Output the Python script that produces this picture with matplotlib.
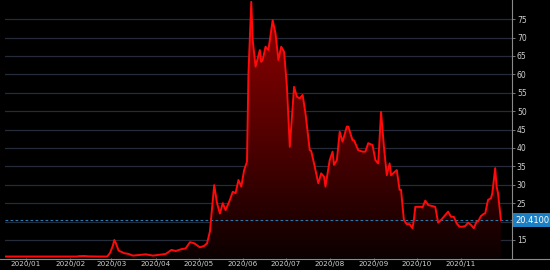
import datetime as dt

import matplotlib
matplotlib.use("Agg")
import matplotlib.dates as mdates
import matplotlib.pyplot as plt
import numpy as np
from matplotlib.colors import LinearSegmentedColormap
from matplotlib.lines import Line2D

# values
dates = [
    "2019-12-18", "2020-01-10", "2020-02-06", "2020-02-07", "2020-02-11", "2020-02-14",
    "2020-02-21", "2020-02-27", "2020-02-29", "2020-03-02", "2020-03-03", "2020-03-04",
    "2020-03-06", "2020-03-10", "2020-03-13", "2020-03-16", "2020-03-20", "2020-03-25",
    "2020-03-30", "2020-04-04", "2020-04-08", "2020-04-12", "2020-04-15", "2020-04-19",
    "2020-04-22", "2020-04-25", "2020-04-28", "2020-05-02", "2020-05-05", "2020-05-07",
    "2020-05-09", "2020-05-11", "2020-05-12", "2020-05-14", "2020-05-16", "2020-05-18",
    "2020-05-20", "2020-05-23", "2020-05-25", "2020-05-27", "2020-05-29", "2020-05-31",
    "2020-06-02", "2020-06-04", "2020-06-05", "2020-06-07", "2020-06-08", "2020-06-10",
    "2020-06-13", "2020-06-14", "2020-06-15", "2020-06-17", "2020-06-19", "2020-06-22",
    "2020-06-24", "2020-06-26", "2020-06-28", "2020-06-30", "2020-07-02", "2020-07-04",
    "2020-07-07", "2020-07-09", "2020-07-11", "2020-07-13", "2020-07-15", "2020-07-18",
    "2020-07-19", "2020-07-21", "2020-07-24", "2020-07-26", "2020-07-28", "2020-07-29",
    "2020-08-01", "2020-08-03", "2020-08-04", "2020-08-06", "2020-08-08", "2020-08-10",
    "2020-08-13", "2020-08-14", "2020-08-17", "2020-08-18", "2020-08-21", "2020-08-24",
    "2020-08-26", "2020-08-28", "2020-08-31", "2020-09-02", "2020-09-04", "2020-09-06",
    "2020-09-08", "2020-09-10", "2020-09-12", "2020-09-13", "2020-09-17", "2020-09-19",
    "2020-09-20", "2020-09-22", "2020-09-24", "2020-09-26", "2020-09-28", "2020-09-29",
    "2020-09-30", "2020-10-04", "2020-10-05", "2020-10-07", "2020-10-09", "2020-10-12",
    "2020-10-14", "2020-10-16", "2020-10-18", "2020-10-21", "2020-10-23", "2020-10-25",
    "2020-10-27", "2020-10-29", "2020-10-31", "2020-11-02", "2020-11-04", "2020-11-06",
    "2020-11-08", "2020-11-10", "2020-11-12", "2020-11-13", "2020-11-15", "2020-11-17",
    "2020-11-18", "2020-11-20", "2020-11-22", "2020-11-23", "2020-11-25", "2020-11-26",
    "2020-11-27", "2020-11-29",
]
values = [
    10.5, 10.5, 10.5, 10.6, 10.65, 10.55,
    10.5, 10.5, 11.5, 13.5, 15.0, 14.2,
    12.1, 11.4, 11.2, 10.75, 10.9, 11.1,
    10.75, 11.0, 11.2, 12.3, 12.0, 12.5,
    12.7, 14.4, 14.1, 13.0, 13.4, 14.1,
    17.3, 25.9, 29.9, 25.0, 22.2, 25.0,
    23.1, 25.9, 28.1, 27.7, 31.3, 29.5,
    34.0, 36.3, 60.0, 79.7, 69.3, 62.1,
    66.6, 63.4, 63.9, 67.5, 66.6, 74.7,
    71.1, 63.9, 67.5, 66.1, 56.6, 40.3,
    56.6, 53.9, 53.5, 54.4, 49.4, 39.4,
    39.2, 35.8, 30.4, 33.1, 32.2, 29.5,
    36.7, 39.0, 35.4, 36.7, 44.4, 41.7,
    45.8, 45.8, 42.1, 42.1, 39.4, 39.0,
    39.0, 41.3, 40.8, 36.7, 35.8, 49.8,
    40.3, 32.6, 35.8, 32.6, 34.0, 28.6,
    28.6, 20.4, 19.3, 19.3, 18.2, 20.4,
    24.0, 24.0, 23.8, 25.7, 24.5, 24.2,
    24.0, 19.7, 20.4, 21.8, 22.7, 21.3,
    21.3, 19.5, 18.6, 18.6, 18.8, 19.7,
    19.1, 18.2, 20.0, 20.0, 21.5, 22.1,
    22.2, 25.9, 26.3, 27.7, 34.5, 29.5,
    27.7, 20.41,
]
last_value = 20.41
month_ticks = ["2020-%02d-01" % m for m in range(1, 12)]
month_labels = ["2020/%02d" % m for m in range(1, 12)]
y_ticks = list(range(15, 80, 5))
# the 20 label sits under the last-value tag in the reference
y_labels = ["" if t == 20 else str(t) for t in y_ticks]

x = mdates.datestr2num(dates)
y = np.array(values)

fig = plt.figure(figsize=(5.5, 2.7), dpi=100, facecolor="black")
ax = fig.add_axes([5 / 550, 12 / 270, 507 / 550, 258 / 270])
ax.set_facecolor("black")

xmin = mdates.date2num(dt.datetime(2019, 12, 17, 8))
xmax = mdates.date2num(dt.datetime(2020, 12, 6, 19))
ymin, ymax = 10.1, 80.2
ax.set_xlim(xmin, xmax)
ax.set_ylim(ymin, ymax)

# grid
for t in y_ticks:
    ax.axhline(t, color="#262b3a", lw=0.9, zorder=1)

# gradient fill under the line
cmap = LinearSegmentedColormap.from_list("rg", ["#0c0000", "#560000", "#940000"])
grad = np.linspace(0, 1, 256).reshape(-1, 1)
img = ax.imshow(grad, cmap=cmap, origin="lower", aspect="auto",
                extent=(xmin, xmax, ymin, ymax), zorder=2)
poly = ax.fill_between(x, y, ymin, color="none", lw=0)
img.set_clip_path(poly.get_paths()[0], ax.transData)

ax.plot(x, y, color="#ff0a0a", lw=1.4, zorder=4, solid_joinstyle="round")

# last value line + tag
ax.axhline(last_value, color="#2a79ad", lw=0.8, ls=(0, (2.5, 2)), zorder=3)
ax.annotate("%.4f" % last_value, xy=(1.0, last_value),
            xycoords=("axes fraction", "data"), xytext=(2.5, 0),
            textcoords="offset points", ha="left", va="center",
            fontsize=6, color="white", annotation_clip=False, zorder=10,
            bbox=dict(boxstyle="square,pad=0.35", fc="#1a7fc4", ec="none"))

ax.set_xticks(mdates.datestr2num(month_ticks))
ax.set_xticklabels(month_labels)
ax.set_yticks(y_ticks)
ax.set_yticklabels(y_labels)
ax.yaxis.tick_right()
ax.tick_params(axis="both", colors="#8a8a8a", labelcolor="#d0d0d0",
               labelsize=5.5, length=2.5, width=0.6, pad=1)
ax.tick_params(axis="x", labelsize=5.2, length=2, pad=0.3)

for side in ["top", "left", "bottom"]:
    ax.spines[side].set_visible(False)
ax.spines["right"].set_color("#8a8a8a")
ax.spines["right"].set_linewidth(0.8)

fig.add_artist(Line2D([0, 1], [11.5 / 270, 11.5 / 270], transform=fig.transFigure,
                      color="#8a8a8a", lw=0.8))

fig.savefig("out.png", dpi=100, facecolor="black")
